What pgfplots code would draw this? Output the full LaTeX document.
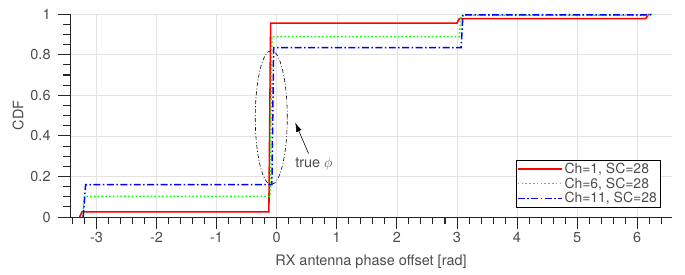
\documentclass[border=0pt]{standalone}
\usepackage{fontspec}
\setmainfont{TeX Gyre Heros}
\usepackage{pgfplots}
\pgfplotsset{compat=1.18}
\usetikzlibrary{arrows.meta,calc}
\definecolor{axgray}{gray}{0.15}
\definecolor{txtgray}{gray}{0.3}
\begin{document}
\begin{tikzpicture}[font=\fontsize{14.5}{17}\selectfont]
\begin{axis}[
  scale only axis, width=602bp, height=203bp,
  xmin=-3.44, xmax=6.58, ymin=0, ymax=1,
  axis line style={draw=none},
  tick pos=left,
  xtick={-3,-2,-1,0,1,2,3,4,5,6},
  ytick={0,0.2,0.4,0.6,0.8,1},
  yticklabels={0,0.2,0.4,0.6,0.8,1},
  minor x tick num=4, minor y tick num=3,
  tick align=outside,
  major tick length=12pt, minor tick length=7pt,
  xtick style={draw=axgray, line width=0.8pt},
  ytick style={draw=axgray, line width=0.8pt},
  minor tick style={draw=axgray, line width=0.8pt},
  grid=major, major grid style={draw=gray!22, line width=0.5pt},
  ticklabel style={txtgray},
  yticklabel style={xshift=-4pt},
  /pgf/number format/assume math mode=true,
  xlabel={RX antenna phase offset [rad]}, ylabel={CDF},
  label style={txtgray},
  xlabel style={yshift=-5pt},
  legend style={at={(0.98,0.046)}, anchor=south east, draw=black, fill=white,
    font=\fontsize{14}{16}\selectfont, inner sep=1pt, row sep=-1pt, cells={anchor=west}},
  legend image code/.code={\draw[#1] (0pt,0pt) -- (44pt,0pt);},
]
\addplot[red, line width=1.6pt] coordinates {
  (-3.28,0) (-3.24,0.025) (-0.13,0.025) (-0.10,0.955) (3.00,0.955) (3.04,0.977) (6.14,0.977) (6.20,1)
};
\addlegendentry{\textcolor{txtgray}{Ch=1, SC=28}}
\addplot[green, line width=1.5pt, dash pattern=on 1.6pt off 2.2pt] coordinates {
  (-3.23,0) (-3.20,0.102) (-0.11,0.102) (-0.08,0.889) (3.04,0.889) (3.07,0.993) (6.20,0.993) (6.25,1)
};
\addlegendentry{\textcolor{txtgray}{Ch=6, SC=28}}
\addplot[blue, line width=1.5pt, dash pattern=on 7pt off 2.5pt on 1.5pt off 2.5pt] coordinates {
  (-3.22,0) (-3.18,0.160) (-0.08,0.160) (-0.05,0.834) (3.07,0.834) (3.10,0.996) (6.22,0.996) (6.26,1)
};
\addlegendentry{\textcolor{txtgray}{Ch=11, SC=28}}
\draw[black, line width=0.6pt, dash pattern=on 4pt off 2pt on 1pt off 2pt] (axis cs:-0.09,0.49) ellipse [x radius=16bp, y radius=67bp];
\draw[black, line width=0.6pt, -{Latex[length=9pt,width=6pt]}] (axis cs:0.53,0.313) -- (axis cs:0.31,0.464);
\node[txtgray] at (axis cs:0.62,0.263) {true $\phi$};
\coordinate (bl) at (rel axis cs:0,0);
\coordinate (br) at (rel axis cs:1,0);
\coordinate (tl) at (rel axis cs:0,1);
\coordinate (tr) at (rel axis cs:1,1);
\end{axis}
\draw[axgray, line width=0.8pt] (tl) -- (bl) -- (br);
\foreach \x in {-3.4,-3.2,...,6.45}
  \draw[axgray, line width=0.8pt] ($(bl)!{(\x+3.44)/10.02}!(br)$) -- ++(0,-7pt);
\foreach \x in {-3,-2,-1,0,1,2,3,4,5,6}
  \draw[axgray, line width=0.8pt] ($(bl)!{(\x+3.44)/10.02}!(br)$) -- ++(0,-12pt);
\foreach \y in {0.05,0.1,...,1.02}
  \draw[axgray, line width=0.8pt] ($(bl)!{\y}!(tl)$) -- ++(-7pt,0);
\foreach \y in {0,0.2,0.4,0.6,0.8,1}
  \draw[axgray, line width=0.8pt] ($(bl)!{\y}!(tl)$) -- ++(-12pt,0);
\pgfresetboundingbox
\path ([xshift=-70bp,yshift=-57bp]bl) rectangle ([xshift=13bp,yshift=14bp]tr);
\end{tikzpicture}
\end{document}
